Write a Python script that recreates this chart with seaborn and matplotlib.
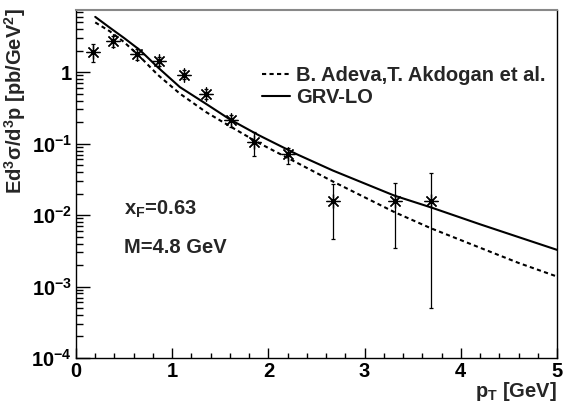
import matplotlib

matplotlib.use("Agg")
import matplotlib.pyplot as plt
import numpy as np
import seaborn as sns
from matplotlib.ticker import FixedFormatter, FixedLocator, LogLocator, MultipleLocator, NullFormatter

# measured points (asterisks with error bars)
pt = [0.174, 0.388, 0.631, 0.866, 1.123, 1.351, 1.611, 1.850, 2.200, 2.674, 3.314, 3.691]
xsec = [1.90, 2.70, 1.77, 1.42, 0.92, 0.49, 0.213, 0.106, 0.0706, 0.0156, 0.0156, 0.0156]
xsec_lo = [1.37, 2.26, 1.47, 1.22, 0.80, 0.42, 0.17, 0.066, 0.0516, 0.00467, 0.00341, 0.000494]
xsec_hi = [2.44, 3.20, 2.10, 1.64, 1.07, 0.59, 0.25, 0.147, 0.087, 0.0273, 0.028, 0.039]

# model curves
curve_pt = [0.2, 0.35, 0.5, 0.665, 0.85, 1.08, 1.35, 1.6, 1.9, 2.3, 2.67, 3.31, 3.69, 4.2, 4.6, 5.0]
grv_lo = [5.93, 4.20, 3.00, 2.03, 1.17, 0.617, 0.361, 0.218, 0.131, 0.0705, 0.042, 0.0187,
          0.0128, 0.00743, 0.00492, 0.00326]
adeva = [4.96, 3.74, 2.63, 1.64, 0.917, 0.50, 0.277, 0.175, 0.102, 0.0537, 0.0295, 0.011,
         0.00653, 0.00349, 0.00214, 0.00138]

labels = ["B. Adeva,T. Akdogan et al.", "GRV-LO"]
y_tick_vals = [1e-4, 1e-3, 1e-2, 1e-1, 1]
y_tick_text = ["$10^{-4}$", "$10^{-3}$", "$10^{-2}$", "$10^{-1}$", "1"]

sns.set_theme(style="ticks")
plt.rcParams["font.family"] = ["Liberation Sans", "DejaVu Sans"]
plt.rcParams["font.weight"] = "bold"
plt.rcParams["mathtext.fontset"] = "custom"
plt.rcParams["mathtext.rm"] = "Liberation Sans:bold"
plt.rcParams["mathtext.it"] = "Liberation Sans:bold"
plt.rcParams["mathtext.bf"] = "Liberation Sans:bold"
plt.rcParams["mathtext.default"] = "bf"

W, H = 564, 404
fig = plt.figure(figsize=(W / 100, H / 100), dpi=100)
ax = fig.add_axes([76 / W, 1 - 358 / H, (557 - 76) / W, (358 - 10) / H])

sns.lineplot(x=curve_pt, y=adeva, ax=ax, color="black", lw=1.5, label=labels[0],
             sort=False)
ax.lines[-1].set_dashes((2, 1.6))
sns.lineplot(x=curve_pt, y=grv_lo, ax=ax, color="black", lw=1.5, label=labels[1], sort=False)

xs = np.array(xsec)
yerr = [xs - np.array(xsec_lo), np.array(xsec_hi) - xs]
ax.errorbar(pt, xsec, yerr=yerr, fmt="none", ecolor="black", elinewidth=0.9,
            capsize=1.3, capthick=0.9)
ax.plot(pt, xsec, ls="none", marker=(8, 2, 0), ms=10, mew=0.9, color="black")

ax.set_yscale("log")
ax.set_xlim(0, 5)
ax.set_ylim(1e-4, 7.4)

ax.xaxis.set_major_locator(MultipleLocator(1))
ax.xaxis.set_minor_locator(MultipleLocator(0.2))
ax.yaxis.set_major_locator(FixedLocator(y_tick_vals))
ax.yaxis.set_major_formatter(FixedFormatter(y_tick_text))
ax.yaxis.set_minor_locator(LogLocator(base=10, subs=np.arange(2, 10)))
ax.yaxis.set_minor_formatter(NullFormatter())

ax.tick_params(axis="both", which="both", direction="in", top=False, right=False,
               colors="black", labelsize=14.5, pad=3, width=1)
ax.tick_params(axis="x", which="major", length=7.5)
ax.tick_params(axis="x", which="minor", length=3.75)
ax.tick_params(axis="y", which="major", length=10.4)
ax.tick_params(axis="y", which="minor", length=5.2)
for lab in ax.get_xticklabels() + ax.get_yticklabels():
    lab.set_fontweight("bold")

for side in ["left", "bottom", "right"]:
    ax.spines[side].set_color("black")
    ax.spines[side].set_linewidth(1)
ax.spines["top"].set_color("#888888")
ax.spines["top"].set_linewidth(1.5)
ax.set_xlabel("")
ax.set_ylabel("")

leg = ax.legend(loc="center left", bbox_to_anchor=(262 / W, 1 - 86.7 / H),
                bbox_transform=fig.transFigure, frameon=False, borderpad=0,
                borderaxespad=0, handlelength=1.4, handletextpad=0.3,
                labelspacing=0.12, prop={"size": 14.5, "weight": "bold"})

fig.text(15 / W, 1 - 8 / H, r"Ed$^{3}\sigma$/d$^{3}$p [pb/GeV$^{2}$]", rotation=90,
         ha="center", va="top", fontsize=14.5, fontweight="bold")
fig.text(557 / W, 1 - 380 / H, r"p$_{T}$ [GeV]", ha="right", va="top",
         fontsize=14.5, fontweight="bold")
fig.text(124 / W, 1 - 215 / H, r"x$_{F}$=0.63", ha="left", va="baseline",
         fontsize=14.5, fontweight="bold")
fig.text(124 / W, 1 - 253 / H, "M=4.8 GeV", ha="left", va="baseline",
         fontsize=14.5, fontweight="bold")

fig.savefig("out.png", dpi=100)
